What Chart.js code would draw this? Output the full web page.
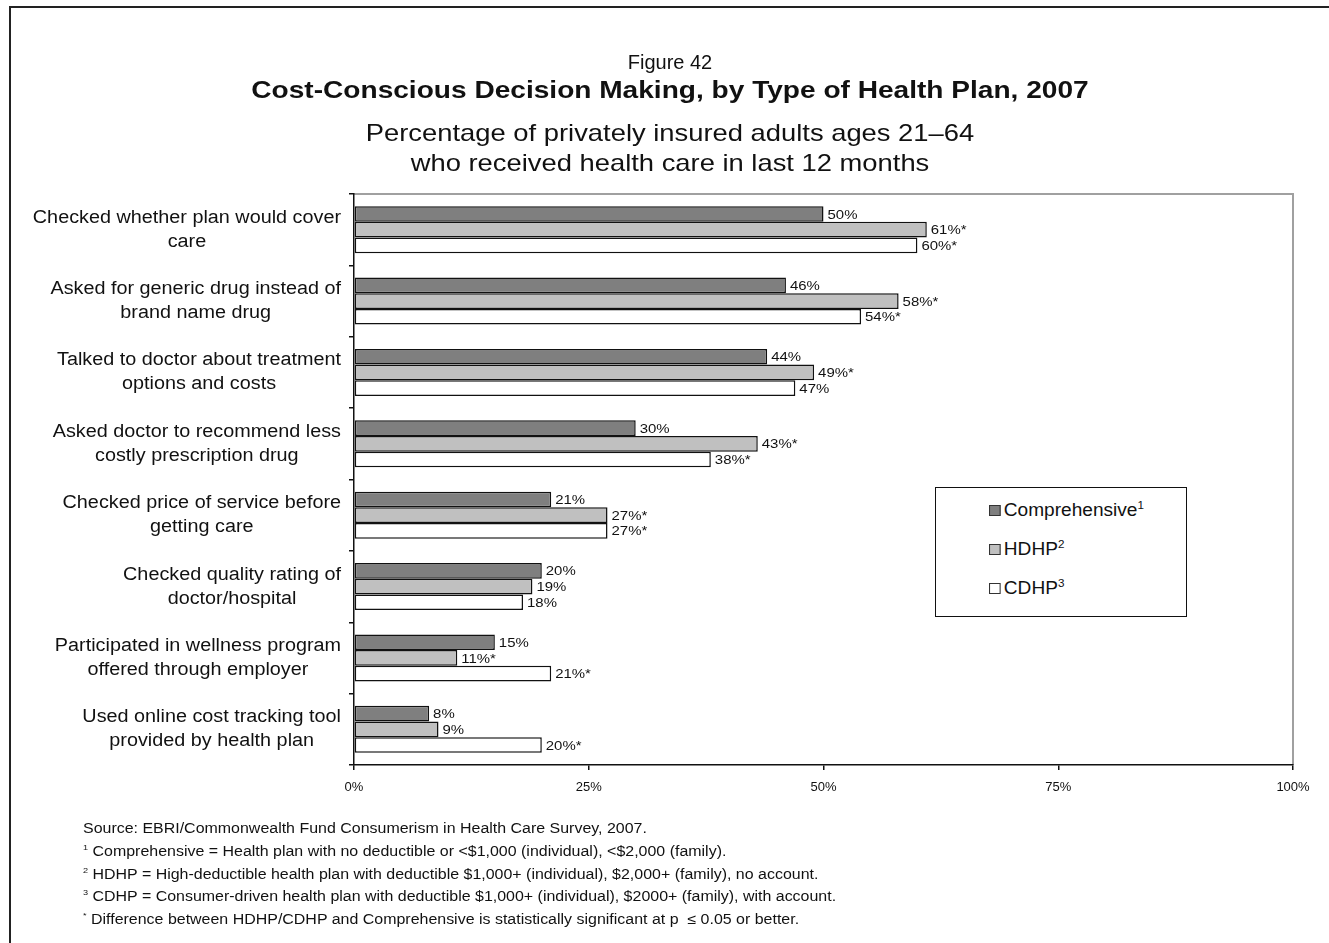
<!DOCTYPE html>
<html>
<head>
<meta charset="utf-8">
<script src="https://cdn.jsdelivr.net/npm/chart.js@4.4.0/dist/chart.umd.min.js"></script>
<style>
body{margin:0;background:#fff;font-family:"Liberation Sans",Arial,sans-serif;overflow:hidden;}
#wrap{position:relative;width:1329px;height:943px;overflow:hidden;}
#frame{position:absolute;left:9px;top:6px;width:1400px;height:1000px;border:2px solid #222;}
#chart{position:absolute;left:0;top:0;}
.ttl{position:absolute;left:0;width:1340px;text-align:center;color:#111;white-space:nowrap;transform-origin:50% 50%;}
#legend{position:absolute;left:935px;top:487px;width:250px;height:128px;border:1.5px solid #111;background:#fff;}
#legend .item{position:absolute;left:53px;font-size:18px;color:#111;white-space:nowrap;transform:scaleX(1.06);transform-origin:0 50%;}
#legend .box{display:inline-block;width:9px;height:9px;border:1px solid #333;margin-right:3px;vertical-align:0px;}
#legend sup{font-size:11px;}
#notes{position:absolute;left:83px;top:817px;font-size:14px;color:#111;line-height:22.8px;white-space:nowrap;transform:scaleX(1.14);transform-origin:0 0;}
#notes sup{font-size:8px;vertical-align:6px;line-height:0;}
</style>
</head>
<body>
<div id="wrap">
	<div id="frame"></div>
	<canvas id="chart" width="1329" height="943"></canvas>
	<div class="ttl" style="top:51px;font-size:20px;">Figure 42</div>
	<div class="ttl" style="top:76px;font-size:24px;font-weight:bold;transform:scaleX(1.17);">Cost-Conscious Decision Making, by Type of Health Plan, 2007</div>
	<div class="ttl" style="top:119px;font-size:24px;transform:scaleX(1.14);">Percentage of privately insured adults ages 21–64</div>
	<div class="ttl" style="top:149px;font-size:24px;transform:scaleX(1.14);">who received health care in last 12 months</div>
	<div id="legend"></div>
	<div id="notes">
		Source: EBRI/Commonwealth Fund Consumerism in Health Care Survey, 2007.<br>
		<sup>1</sup> Comprehensive = Health plan with no deductible or &lt;$1,000 (individual), &lt;$2,000 (family).<br>
		<sup>2</sup> HDHP = High-deductible health plan with deductible $1,000+ (individual), $2,000+ (family), no account.<br>
		<sup>3</sup> CDHP = Consumer-driven health plan with deductible $1,000+ (individual), $2000+ (family), with account.<br>
		<sup>*</sup> Difference between HDHP/CDHP and Comprehensive is statistically significant at p &nbsp;≤ 0.05 or better.
	</div>
</div>
<script>
// 항목 (두 줄씩)
var categories = [
	['Checked whether plan would cover', 'care'],
	['Asked for generic drug instead of', 'brand name drug'],
	['Talked to doctor about treatment', 'options and costs'],
	['Asked doctor to recommend less', 'costly prescription drug'],
	['Checked price of service before', 'getting care'],
	['Checked quality rating of', 'doctor/hospital'],
	['Participated in wellness program', 'offered through employer'],
	['Used online cost tracking tool', 'provided by health plan']
];
var seriesNames = ['Comprehensive', 'HDHP', 'CDHP'];
var seriesNotes = ['1', '2', '3'];
var seriesColors = ['#7f7f7f', '#c0c0c0', '#ffffff'];

var comprehensive = [50, 46, 44, 30, 21, 20, 15, 8];
var hdhp = [61, 58, 49, 43, 27, 19, 11, 9];
var cdhp = [60, 54, 47, 38, 27, 18, 21, 20];

// 유의차 표시(*)
var compSig = [0, 0, 0, 0, 0, 0, 0, 0];
var hdhpSig = [1, 1, 1, 1, 1, 0, 1, 0];
var cdhpSig = [1, 1, 0, 1, 1, 0, 1, 1];

var xTicks = [0, 25, 50, 75, 100];

var allValues = [comprehensive, hdhp, cdhp];
var allSig = [compSig, hdhpSig, cdhpSig];

var FONT = '"Liberation Sans", Arial, sans-serif';

//범례
var legendHtml = '';
for (var i = 0; i < seriesNames.length; i++) {
	legendHtml += '<div class="item" style="top:' + (11 + i * 39) + 'px;"><span class="box" style="background:' + seriesColors[i] + '"></span>' + seriesNames[i] + '<sup>' + seriesNotes[i] + '</sup></div>';
}
document.getElementById('legend').innerHTML = legendHtml;

//플롯 영역 위/오른쪽 회색 테두리
var plotBorder = {
	id: 'plotBorder',
	beforeDraw: function(chart){
		var a = chart.chartArea, ctx = chart.ctx;
		ctx.save();
		ctx.strokeStyle = '#a0a0a0';
		ctx.lineWidth = 2;
		ctx.beginPath();
		ctx.moveTo(a.left, a.top);
		ctx.lineTo(a.right, a.top);
		ctx.lineTo(a.right, a.bottom);
		ctx.stroke();
		ctx.restore();
	}
};

//항목 라벨 (블록은 오른쪽 정렬, 줄은 가운데 정렬)
var catLabels = {
	id: 'catLabels',
	afterDraw: function(chart){
		var ctx = chart.ctx, yScale = chart.scales.y, a = chart.chartArea;
		var sx = 1.1, lineH = 24;
		ctx.save();
		ctx.font = '18px ' + FONT;
		ctx.fillStyle = '#111';
		ctx.textAlign = 'center';
		ctx.textBaseline = 'middle';
		categories.forEach(function(lines, i){
			var y = yScale.getPixelForValue(i);
			var w = 0;
			lines.forEach(function(t){ w = Math.max(w, ctx.measureText(t).width * sx); });
			var cx = a.left - 13 - w / 2;
			lines.forEach(function(t, j){
				ctx.save();
				ctx.translate(cx, y + (j - (lines.length - 1) / 2) * lineH);
				ctx.scale(sx, 1);
				ctx.fillText(t, 0, 0);
				ctx.restore();
			});
		});
		ctx.restore();
	}
};

//막대 값 라벨
var barLabels = {
	id: 'barLabels',
	afterDatasetsDraw: function(chart){
		var ctx = chart.ctx;
		ctx.save();
		ctx.font = '13px ' + FONT;
		ctx.fillStyle = '#111';
		ctx.textAlign = 'left';
		ctx.textBaseline = 'middle';
		chart.data.datasets.forEach(function(ds, d){
			chart.getDatasetMeta(d).data.forEach(function(bar, i){
				var txt = allValues[d][i] + '%' + (allSig[d][i] ? '*' : '');
				ctx.save();
				ctx.translate(bar.x + 4, bar.y + 1);
				ctx.scale(1.15, 1);
				ctx.fillText(txt, 0, 0);
				ctx.restore();
			});
		});
		ctx.restore();
	}
};

var datasets = [];
for (var d = 0; d < seriesNames.length; d++) {
	datasets.push({
		label: seriesNames[d],
		data: allValues[d],
		backgroundColor: seriesColors[d],
		borderColor: '#111',
		borderWidth: 1.5,
		borderSkipped: false,
		barPercentage: 1.0,
		categoryPercentage: 0.66
	});
}

var ctx = document.getElementById('chart');
var chart = new Chart(ctx, {
	type: 'bar',
	data: {
		labels: categories.map(function(c){ return c.join(' '); }),
		datasets: datasets
	},
	options: {
		indexAxis: 'y',
		responsive: false,
		animation: false,
		layout: { padding: { left: 314, top: 194, right: 36, bottom: 138 } },
		plugins: { legend: { display: false }, tooltip: { enabled: false } },
		scales: {
			x: {
				min: 0, max: 100,
				afterBuildTicks: function(s){ s.ticks = xTicks.map(function(v){ return { value: v }; }); },
				ticks: {
					callback: function(v){ return v + '%'; },
					font: { size: 13, family: FONT },
					color: '#111', padding: 10, maxRotation: 0
				},
				grid: { drawOnChartArea: false, tickLength: 5, color: '#111', lineWidth: 1.5 },
				border: { color: '#111', width: 1.5 },
				afterFit: function(s){ s.height = 40; }
			},
			y: {
				ticks: { display: false },
				grid: { drawOnChartArea: false, tickLength: 5, color: '#111', lineWidth: 1.5, offset: true },
				border: { color: '#111', width: 1.5 },
				afterFit: function(s){ s.width = 40; }
			}
		}
	},
	plugins: [plotBorder, catLabels, barLabels]
});
</script>
</body>
</html>
